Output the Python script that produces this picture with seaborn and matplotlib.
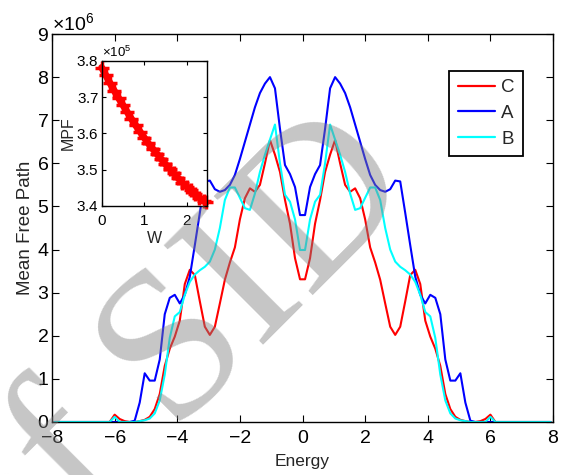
import numpy as np
import pandas as pd
import matplotlib
matplotlib.use("Agg")
import matplotlib.pyplot as plt
import seaborn as sns
from matplotlib.ticker import ScalarFormatter, MultipleLocator

# energy grid, 100 points spaced 0.16
energy = np.round(np.arange(-7.92, 7.93, 0.16), 2)

# mean free path (x 1e6)
mfp_c = [0, 0, 0, 0, 0, 0, 0, 0, 0, 0,
         0, 0, 0.17, 0.07, 0.02, 0, 0, 0.02, 0.05, 0.12,
         0.3, 0.65, 1.3, 1.7, 1.98, 2.35, 3.2, 3.53, 3.41, 2.8,
         2.21, 2.02, 2.21, 2.75, 3.3, 3.7, 4.05, 4.7, 5.19, 5.42,
         5.34, 5.5, 6.0, 6.54, 6.2, 5.8, 5.15, 4.6, 3.8, 3.31,
         3.31, 3.8, 4.6, 5.15, 5.8, 6.2, 6.54, 6.0, 5.5, 5.34,
         5.42, 5.19, 4.7, 4.05, 3.7, 3.3, 2.75, 2.21, 2.02, 2.21,
         2.8, 3.41, 3.53, 3.2, 2.35, 1.98, 1.7, 1.3, 0.65, 0.3,
         0.12, 0.05, 0.02, 0, 0, 0.02, 0.07, 0.17, 0, 0,
         0, 0, 0, 0, 0, 0, 0, 0, 0, 0]
mfp_a = [0, 0, 0, 0, 0, 0, 0, 0, 0, 0,
         0, 0, 0, 0, 0, 0, 0.03, 0.45, 1.13, 0.96,
         0.96, 1.45, 2.5, 2.88, 2.95, 2.75, 2.95, 3.37, 4.1, 4.85,
         5.58, 5.6, 5.4, 5.34, 5.38, 5.5, 5.73, 6.1, 6.5, 6.9,
         7.3, 7.63, 7.85, 8.0, 7.74, 6.8, 5.96, 5.75, 5.45, 4.8,
         4.8, 5.45, 5.75, 5.96, 6.8, 7.74, 8.0, 7.85, 7.63, 7.3,
         6.9, 6.5, 6.1, 5.73, 5.5, 5.38, 5.34, 5.4, 5.6, 5.58,
         4.85, 4.1, 3.37, 2.95, 2.75, 2.95, 2.88, 2.5, 1.45, 0.96,
         0.96, 1.13, 0.45, 0.03, 0, 0, 0, 0, 0, 0,
         0, 0, 0, 0, 0, 0, 0, 0, 0, 0]
mfp_b = [0, 0, 0, 0, 0, 0, 0, 0, 0, 0,
         0, 0, 0.12, 0, 0, 0, 0, 0.02, 0.04, 0.08,
         0.2, 0.5, 1.1, 1.95, 2.45, 2.55, 2.95, 3.25, 3.42, 3.52,
         3.6, 3.72, 4.0, 4.5, 5.15, 5.44, 5.44, 5.2, 4.96, 4.92,
         5.3, 5.8, 6.2, 6.55, 6.9, 6.0, 5.27, 5.11, 4.7, 3.99,
         3.99, 4.7, 5.11, 5.27, 6.0, 6.9, 6.55, 6.2, 5.8, 5.3,
         4.92, 4.96, 5.2, 5.44, 5.44, 5.15, 4.5, 4.0, 3.72, 3.6,
         3.52, 3.42, 3.25, 2.95, 2.55, 2.45, 1.95, 1.1, 0.5, 0.2,
         0.08, 0.04, 0.02, 0, 0, 0, 0, 0.12, 0, 0,
         0, 0, 0, 0, 0, 0, 0, 0, 0, 0]

series_names = ["C", "A", "B"]
series_colors = ["#ff0000", "#0000ff", "#00ffff"]

# inset: MPF (x 1e5) against W
w_vals = [0.0, 0.1, 0.2, 0.3, 0.4, 0.5, 0.6, 0.7, 0.8, 0.9, 1.0, 1.1, 1.2,
          1.3, 1.4, 1.5, 1.6, 1.7, 1.8, 1.9, 2.0, 2.1, 2.2, 2.3, 2.4, 2.45]
mpf_vals = [3.782, 3.760, 3.738, 3.717, 3.697, 3.678, 3.659, 3.640, 3.622,
            3.605, 3.588, 3.572, 3.557, 3.543, 3.529, 3.515, 3.502, 3.489,
            3.476, 3.464, 3.453, 3.442, 3.432, 3.422, 3.413, 3.409]

df = pd.concat([
    pd.DataFrame({"Energy": energy, "MFP": np.array(v) * 1e6, "series": n})
    for n, v in zip(series_names, [mfp_c, mfp_a, mfp_b])
], ignore_index=True)

sns.set_style("ticks")
plt.rcParams["font.family"] = ["Liberation Sans", "DejaVu Sans"]
plt.rcParams["mathtext.fontset"] = "custom"
plt.rcParams["mathtext.rm"] = "Liberation Sans"

fig = plt.figure(figsize=(5.63, 4.75), dpi=100)
ax = fig.add_axes([0.0924, 0.1116, 0.8899, 0.8168])

sns.lineplot(data=df, x="Energy", y="MFP", hue="series", hue_order=series_names,
             palette=dict(zip(series_names, series_colors)), linewidth=1.5,
             errorbar=None, ax=ax)

ax.set_xlim(-8, 8)
ax.set_ylim(0, 9e6)
ax.xaxis.set_major_locator(MultipleLocator(2))
ax.yaxis.set_major_locator(MultipleLocator(1e6))
fmt = ScalarFormatter(useMathText=True)
fmt.set_powerlimits((0, 0))
ax.yaxis.set_major_formatter(fmt)
ax.yaxis.get_offset_text().set_fontsize(14)
ax.tick_params(direction="in", top=True, right=True, length=5, width=0.8,
               labelsize=14, colors="black")
ax.tick_params(axis="x", pad=6)
ax.tick_params(axis="y", pad=2)
for s in ax.spines.values():
    s.set_linewidth(1.0)
    s.set_color("black")
ax.set_xlabel("Energy", fontsize=12.5, labelpad=5)
ax.set_ylabel("Mean Free Path", fontsize=13.5, labelpad=2)

leg = ax.legend(loc="upper right", bbox_to_anchor=(0.94, 0.905), borderaxespad=0,
                fancybox=False, edgecolor="black", framealpha=1, fontsize=13.5,
                handlelength=2.0, labelspacing=0.45, borderpad=0.45,
                handletextpad=0.3, title=None)
leg.get_frame().set_linewidth(1.3)
for line in leg.get_lines():
    line.set_linewidth(1.6)

# inset
ins = fig.add_axes([0.1806, 0.567, 0.1865, 0.3046])
ins.set_facecolor("white")
ins.plot(w_vals, np.array(mpf_vals) * 1e5, color="#ff0000", linewidth=5,
         marker="+", markersize=10, markeredgewidth=2.5, clip_on=False)
ins.set_xlim(0, 2.47)
ins.set_ylim(3.4e5, 3.8e5)
ins.xaxis.set_major_locator(MultipleLocator(1))
ins.yaxis.set_major_locator(MultipleLocator(0.1e5))
fmt2 = ScalarFormatter(useMathText=True)
fmt2.set_powerlimits((0, 0))
ins.yaxis.set_major_formatter(fmt2)
ins.yaxis.get_offset_text().set_fontsize(9.5)
ins.tick_params(direction="in", top=True, right=True, length=3, width=0.8,
                labelsize=11, colors="black")
ins.tick_params(axis="x", pad=6)
ins.tick_params(axis="y", pad=2)
for s in ins.spines.values():
    s.set_linewidth(1.0)
    s.set_color("black")
ins.set_xlabel("W", fontsize=11.5, labelpad=2)
ins.set_ylabel("MPF", fontsize=11.5, labelpad=0)

# grey watermark across the picture
fig.text(0.315, 0.245, "of SID", rotation=45, fontsize=155, family="Liberation Serif",
         color="0.5", alpha=0.45, ha="center", va="center", rotation_mode="anchor")

fig.savefig("out.png", dpi=100)
